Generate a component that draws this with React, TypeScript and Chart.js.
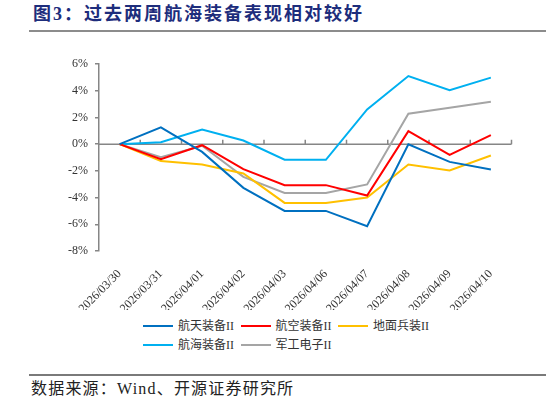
import React, { useEffect, useRef } from "react";
import { Chart, registerables } from "chart.js";

Chart.register(...registerables);

// Trading days
const dates = [
  "2026/03/30",
  "2026/03/31",
  "2026/04/01",
  "2026/04/02",
  "2026/04/03",
  "2026/04/06",
  "2026/04/07",
  "2026/04/08",
  "2026/04/09",
  "2026/04/10",
];

// Cumulative returns (%) by sector
const hangtian = [0, 1.25, -0.58, -3.27, -5.0, -5.0, -6.15, -0.02, -1.33, -1.9];
const hangkong = [0, -1.12, -0.08, -1.87, -3.07, -3.07, -3.85, 0.97, -0.8, 0.67];
const dimian = [0, -1.27, -1.52, -2.2, -4.4, -4.4, -4.0, -1.52, -1.97, -0.85];
const hanghai = [0, 0.15, 1.1, 0.27, -1.17, -1.17, 2.6, 5.1, 4.03, 4.98];
const jungong = [0, -0.97, -0.12, -2.45, -3.65, -3.65, -3.02, 2.28, 2.73, 3.18];

const seriesNames = ["航天装备II", "航空装备II", "地面兵装II", "航海装备II", "军工电子II"];
const seriesValues = [hangtian, hangkong, dimian, hanghai, jungong];
const seriesColors = ["#0070C0", "#FF0000", "#FFC000", "#00B0F0", "#A5A5A5"];

const yTickValues = [6, 4, 2, 0, -2, -4, -6, -8];

const AXIS_COLOR = "#868686";
const SERIF = '"Liberation Serif", "Noto Sans CJK SC", serif';

// Horizontal axis line at 0% with upward tick marks between categories
const zeroAxisPlugin = {
  id: "zeroAxis",
  beforeDatasetsDraw(chart: any) {
    const { ctx, chartArea, scales } = chart;
    const x = scales.x;
    const y0 = scales.y.getPixelForValue(0);
    ctx.save();
    ctx.strokeStyle = AXIS_COLOR;
    ctx.lineWidth = 1.5;
    ctx.beginPath();
    ctx.moveTo(chartArea.left, y0);
    ctx.lineTo(chartArea.right, y0);
    const n = x.ticks.length;
    for (let i = 0; i < n; i++) {
      const bx =
        i < n - 1
          ? (x.getPixelForTick(i) + x.getPixelForTick(i + 1)) / 2
          : chartArea.right;
      ctx.moveTo(bx, y0);
      ctx.lineTo(bx, y0 - 4.5);
    }
    ctx.stroke();
    ctx.restore();
  },
};

function ReturnsChart() {
  const ref = useRef<HTMLCanvasElement>(null);

  useEffect(() => {
    if (!ref.current) return;
    const chart = new Chart(ref.current, {
      type: "line",
      data: {
        labels: dates,
        datasets: seriesNames.map((name, i) => ({
          label: name,
          data: seriesValues[i],
          borderColor: seriesColors[i],
          backgroundColor: seriesColors[i],
          borderWidth: 2,
          pointRadius: 0,
          tension: 0,
          fill: false,
        })),
      },
      options: {
        animation: false,
        responsive: false,
        maintainAspectRatio: false,
        layout: { padding: { top: 24, right: 34.5, left: 0, bottom: 0 } },
        plugins: {
          legend: { display: false },
          tooltip: { enabled: false },
        },
        scales: {
          x: {
            type: "category",
            offset: true,
            grid: { display: false },
            border: { display: false },
            ticks: {
              autoSkip: false,
              minRotation: 45,
              maxRotation: 45,
              padding: 8,
              color: "#333",
              font: { family: SERIF, size: 12 },
            },
            afterFit: (s: any) => {
              s.height = 59;
            },
          },
          y: {
            min: -8,
            max: 6,
            afterBuildTicks: (s: any) => {
              s.ticks = yTickValues.map((v) => ({ value: v }));
            },
            ticks: {
              padding: 7,
              color: "#333",
              font: { family: SERIF, size: 12 },
              callback: (v: any) => `${v}%`,
            },
            grid: {
              drawOnChartArea: false,
              drawTicks: true,
              tickLength: 4,
              color: AXIS_COLOR,
              lineWidth: 1.5,
            },
            border: { display: true, color: AXIS_COLOR, width: 1.5 },
            afterFit: (s: any) => {
              s.width = 99;
            },
          },
        },
      },
      plugins: [zeroAxisPlugin],
    });
    return () => chart.destroy();
  }, []);

  return (
    <canvas
      ref={ref}
      width={546}
      height={270}
      style={{ position: "absolute", left: 0, top: 40, width: 546, height: 270, display: "block" }}
    />
  );
}

function Legend() {
  const rows = [
    [0, 1, 2],
    [3, 4],
  ];
  return (
    <>
      {rows.map((row, r) =>
        row.map((idx, c) => (
          <div
            key={idx}
            style={{
              position: "absolute",
              left: 143 + c * 97.5,
              top: 317 + r * 19,
              height: 18,
              display: "flex",
              alignItems: "center",
              whiteSpace: "nowrap",
            }}
          >
            <span
              style={{
                display: "inline-block",
                width: 30,
                height: 2.5,
                background: seriesColors[idx],
                marginRight: 5,
              }}
            />
            <span style={{ fontFamily: SERIF, fontSize: 12, color: "#333", lineHeight: "18px" }}>
              {seriesNames[idx]}
            </span>
          </div>
        ))
      )}
    </>
  );
}

export default function App() {
  return (
    <div
      style={{
        position: "fixed",
        left: 0,
        top: 0,
        width: 546,
        height: 405,
        background: "#fff",
        overflow: "hidden",
      }}
    >
      <div
        style={{
          position: "absolute",
          left: 33,
          top: 3,
          fontFamily: SERIF,
          fontWeight: "bold",
          fontSize: 18,
          lineHeight: "22px",
          letterSpacing: 2,
          color: "#1d2d7c",
          whiteSpace: "nowrap",
        }}
      >
        图3：过去两周航海装备表现相对较好
      </div>
      <div
        style={{ position: "absolute", left: 29, top: 30, width: 517, height: 2, background: "#8c8c8c" }}
      />
      <ReturnsChart />
      <Legend />
      <div
        style={{ position: "absolute", left: 29, top: 374, width: 517, height: 1.5, background: "#7a7a7a" }}
      />
      <div
        style={{
          position: "absolute",
          left: 31,
          top: 379,
          fontFamily: SERIF,
          fontSize: 16,
          lineHeight: "20px",
          letterSpacing: 1.2,
          color: "#222",
          whiteSpace: "nowrap",
        }}
      >
        数据来源：Wind、开源证券研究所
      </div>
    </div>
  );
}
